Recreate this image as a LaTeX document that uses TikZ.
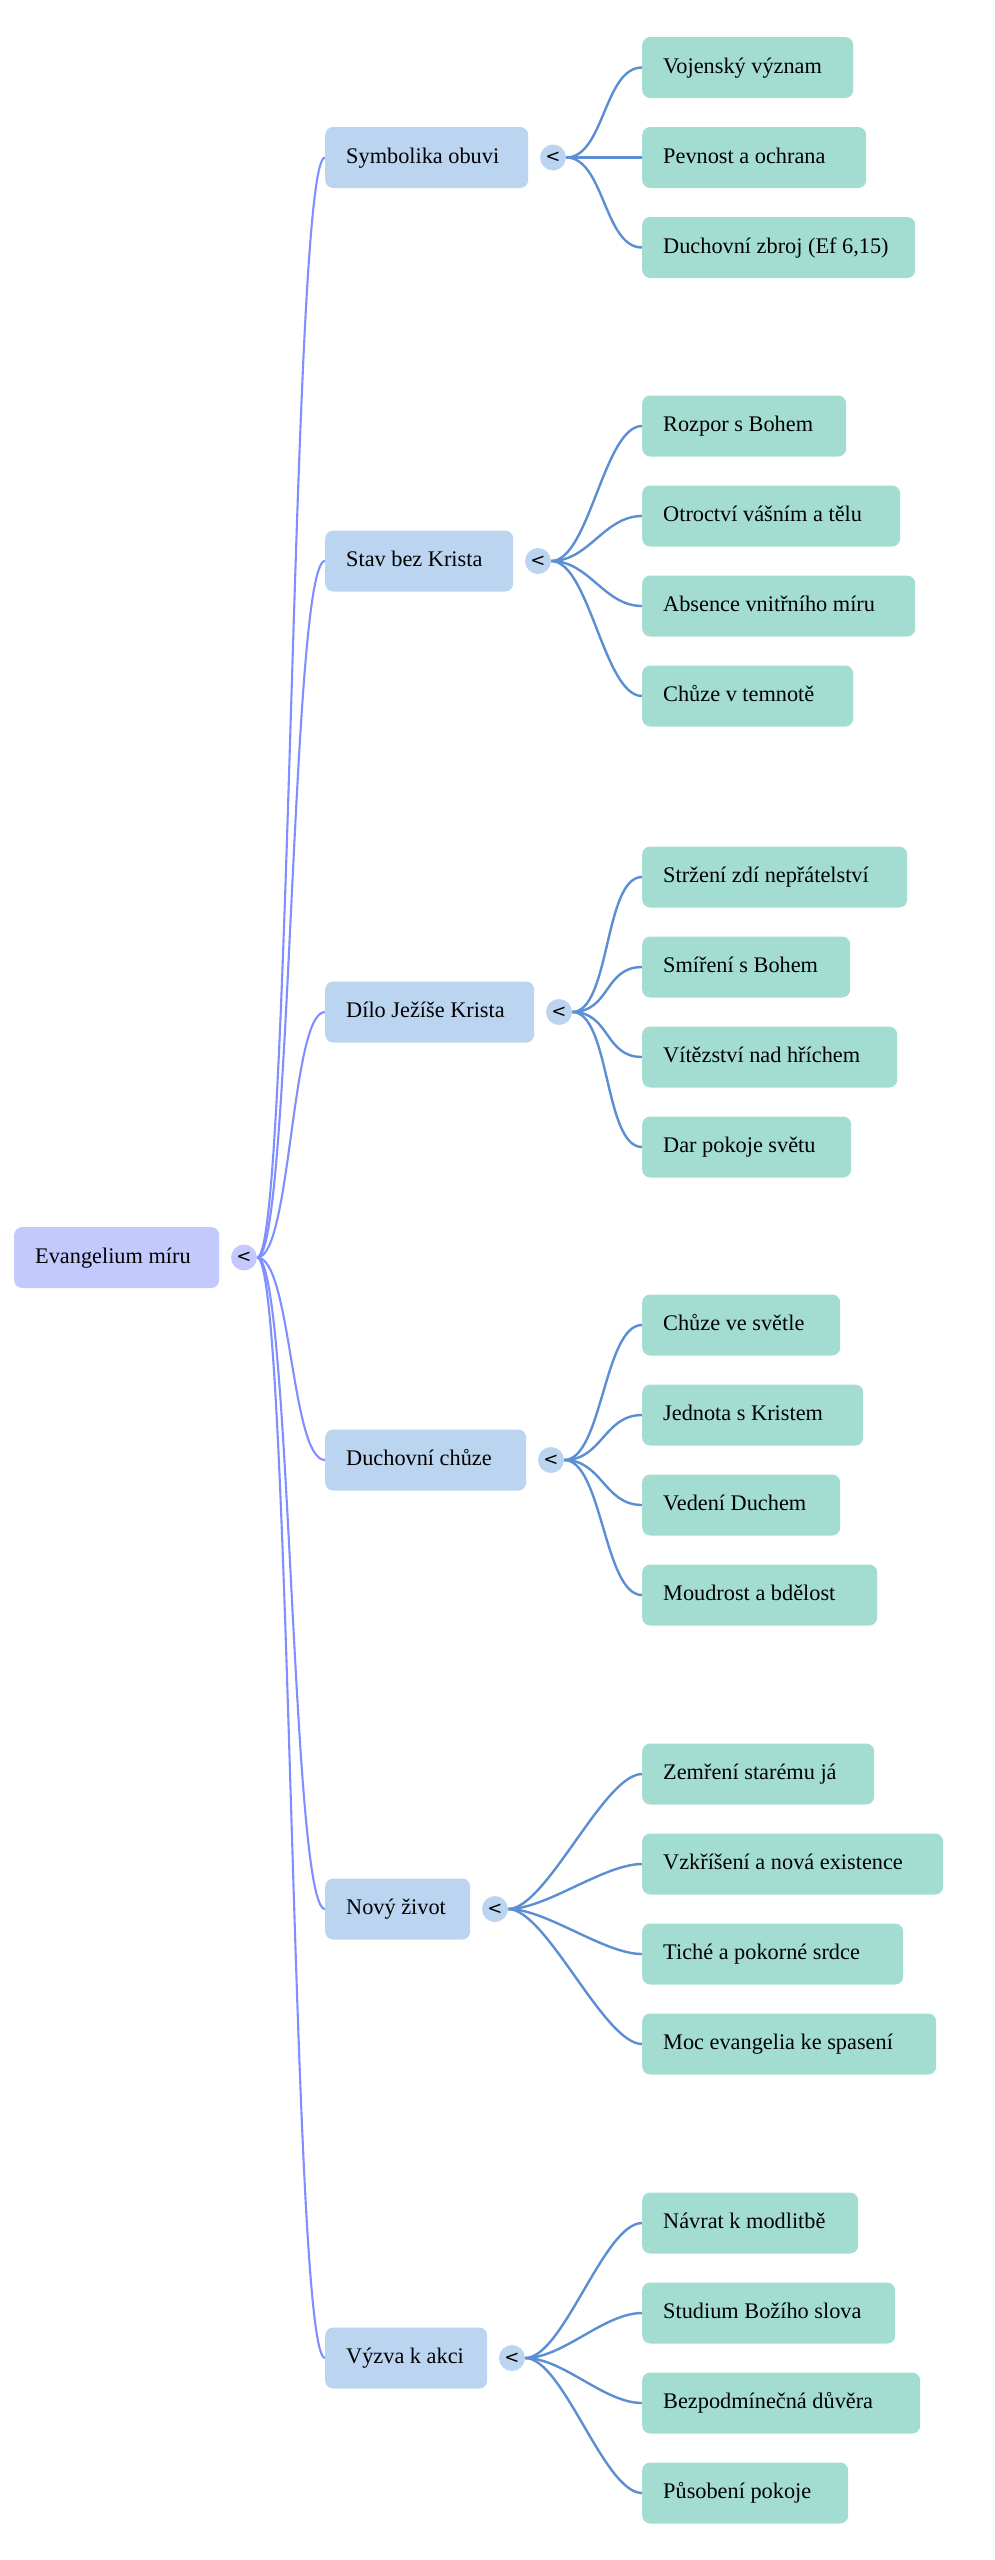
\documentclass[tikz,border=0pt]{standalone}
\usepackage{fontspec}
\setmainfont{Liberation Serif}
\newfontfamily\togfont{DejaVu Sans}
\usetikzlibrary{backgrounds}
\definecolor{rootc}{HTML}{C4C9FD}
\definecolor{topicc}{HTML}{BBD4F0}
\definecolor{leafc}{HTML}{A3DDD1}
\definecolor{rootline}{HTML}{7F8FFF}
\definecolor{leafline}{HTML}{5B8ED3}
\newcommand{\lbox}[2]{\makebox[#1pt][l]{#2}}
\tikzset{
  box/.style={rounded corners=8pt, anchor=west, minimum height=61pt, inner xsep=21pt, inner ysep=0pt,
    text height=16pt, text depth=5pt, font=\fontsize{22.3pt}{26pt}\selectfont},
  rootbox/.style={box, fill=rootc},
  topic/.style={box, fill=topicc},
  leaf/.style={box, fill=leafc},
  tog/.style={circle, minimum size=26pt, inner sep=0pt, font=\togfont\fontsize{18pt}{20pt}\selectfont},
  roottog/.style={tog, fill=rootc},
  topictog/.style={tog, fill=topicc},
  rootedge/.style={draw=rootline, line width=2.1pt},
  leafedge/.style={draw=leafline, line width=2.4pt},
}
\begin{document}
\begin{tikzpicture}[x=1pt,y=-1pt]
\useasboundingbox (0,0) rectangle (995,2560);
% root
\node[rootbox] (root) at (14,1257.5) {\lbox{163}{Evangelium míru}};
\node[roottog] (t0) at (244,1257.5) {<};
% level 1
\node[topic] (l1) at (325,157.5) {\lbox{161}{Symbolika obuvi}};
\node[topic] (l2) at (325,561) {\lbox{146}{Stav bez Krista}};
\node[topic] (l3) at (325,1012) {\lbox{167}{Dílo Ježíše Krista}};
\node[topic] (l4) at (325,1460) {\lbox{159}{Duchovní chůze}};
\node[topic] (l5) at (325,1909) {\lbox{103}{Nový život}};
\node[topic] (l6) at (325,2358) {\lbox{120}{Výzva k akci}};
\node[topictog] (t1) at (553,157.5) {<};
\node[topictog] (t2) at (538,561) {<};
\node[topictog] (t3) at (559,1012) {<};
\node[topictog] (t4) at (551,1460) {<};
\node[topictog] (t5) at (495,1909) {<};
\node[topictog] (t6) at (512,2358) {<};
% leaves group 1
\node[leaf] (c11) at (642,67.5) {\lbox{169}{Vojenský význam}};
\node[leaf] (c12) at (642,157.5) {\lbox{182}{Pevnost a ochrana}};
\node[leaf] (c13) at (642,247.5) {\lbox{231}{Duchovní zbroj (Ef 6,15)}};
% group 2
\node[leaf] (c21) at (642,426) {\lbox{162}{Rozpor s Bohem}};
\node[leaf] (c22) at (642,516) {\lbox{216}{Otroctví vášním a tělu}};
\node[leaf] (c23) at (642,606) {\lbox{231}{Absence vnitřního míru}};
\node[leaf] (c24) at (642,696) {\lbox{169}{Chůze v temnotě}};
% group 3
\node[leaf] (c31) at (642,877) {\lbox{223}{Stržení zdí nepřátelství}};
\node[leaf] (c32) at (642,967) {\lbox{166}{Smíření s Bohem}};
\node[leaf] (c33) at (642,1057) {\lbox{213}{Vítězství nad hříchem}};
\node[leaf] (c34) at (642,1147) {\lbox{167}{Dar pokoje světu}};
% group 4
\node[leaf] (c41) at (642,1325) {\lbox{156}{Chůze ve světle}};
\node[leaf] (c42) at (642,1415) {\lbox{179}{Jednota s Kristem}};
\node[leaf] (c43) at (642,1505) {\lbox{156}{Vedení Duchem}};
\node[leaf] (c44) at (642,1595) {\lbox{193}{Moudrost a bdělost}};
% group 5
\node[leaf] (c51) at (642,1774) {\lbox{190}{Zemření starému já}};
\node[leaf] (c52) at (642,1864) {\lbox{259}{Vzkříšení a nová existence}};
\node[leaf] (c53) at (642,1954) {\lbox{219}{Tiché a pokorné srdce}};
\node[leaf] (c54) at (642,2044) {\lbox{252}{Moc evangelia ke spasení}};
% group 6
\node[leaf] (c61) at (642,2223) {\lbox{174}{Návrat k modlitbě}};
\node[leaf] (c62) at (642,2313) {\lbox{211}{Studium Božího slova}};
\node[leaf] (c63) at (642,2403) {\lbox{236}{Bezpodmínečná důvěra}};
\node[leaf] (c64) at (642,2493) {\lbox{164}{Působení pokoje}};
\begin{pgfonlayer}{background}
\foreach \l in {l1,l2,l3,l4,l5,l6}{
  \draw[rootedge] (t0.east) .. controls ([xshift=34pt]t0.east) and ([xshift=-34pt]\l.west) .. (\l.west);
}
\foreach \t/\c in {t1/c11,t1/c12,t1/c13,t2/c21,t2/c22,t2/c23,t2/c24,t3/c31,t3/c32,t3/c33,t3/c34,t4/c41,t4/c42,t4/c43,t4/c44,t5/c51,t5/c52,t5/c53,t5/c54,t6/c61,t6/c62,t6/c63,t6/c64}{
  \draw[leafedge] (\t.east) .. controls ([xshift=38pt]\t.east) and ([xshift=-38pt]\c.west) .. (\c.west);
}
\end{pgfonlayer}
\end{tikzpicture}
\end{document}
